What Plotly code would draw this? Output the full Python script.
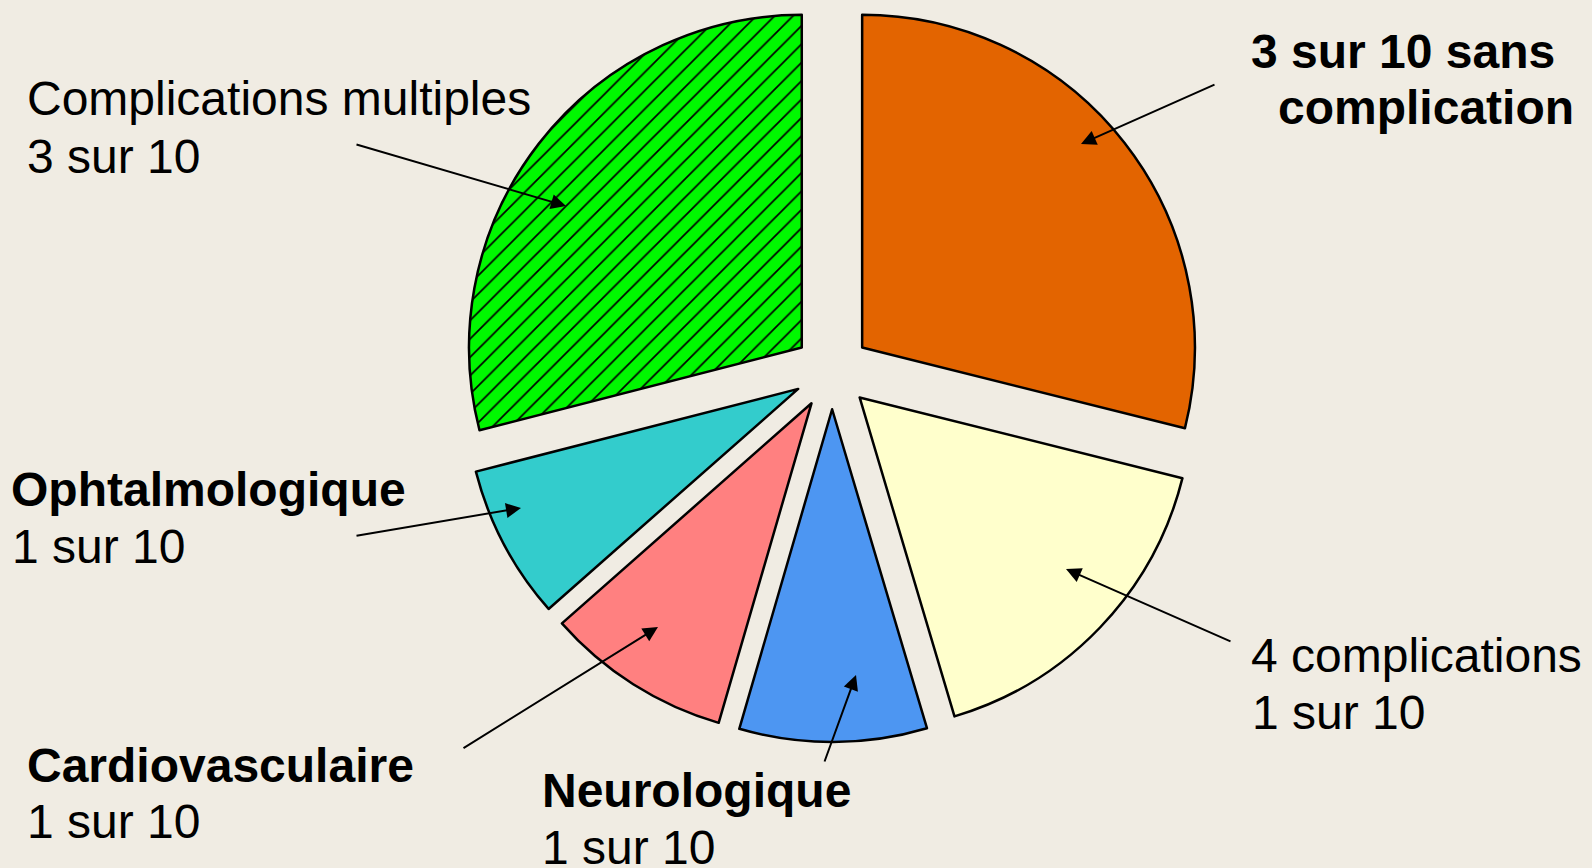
import plotly.graph_objects as go

# ---- data -------------------------------------------------------------
categories = ["Sans complication", "4 complications", "Neurologique",
              "Cardiovasculaire", "Ophtalmologique", "Complications multiples"]
shares = [28.9, 16.5, 9.1, 9.0, 7.5, 29.0]
slice_colors = ["#E36400", "#FFFFCC", "#4D96F2", "#FF8080", "#33CCCC", "#00F800"]
slice_patterns = ["", "", "", "", "", "/"]

label_titles = ["3 sur 10 sans", "4 complications", "Neurologique",
                "Cardiovasculaire", "Ophtalmologique", "Complications multiples"]
label_subtitles = ["complication", "1 sur 10", "1 sur 10",
                   "1 sur 10", "1 sur 10", "3 sur 10"]
title_bold = [True, False, True, True, True, False]
sub_bold = [True, False, False, False, False, False]

# ---- layout helpers (pixel geometry of the 1592x868 canvas) ------------
W, H = 1592, 868
BG = "#F0ECE3"
FONT = "Liberation Sans, Arial, sans-serif"
FS = 48

cx, cy = 832, 371
half = 371
pull = 0.115

fig = go.Figure(go.Pie(
    labels=categories,
    values=shares,
    sort=False,
    direction="clockwise",
    rotation=0,
    pull=[pull] * len(shares),
    textinfo="none",
    hoverinfo="skip",
    showlegend=False,
    marker=dict(
        colors=slice_colors,
        line=dict(color="black", width=2.5),
        pattern=dict(shape=slice_patterns, fgcolor="black", fgopacity=1,
                     fillmode="overlay", size=13, solidity=0.13),
    ),
    domain=dict(x=[(cx - 700) / W, (cx + 700) / W],
                y=[(H - cy - half) / H, 1.0]),
))

def px(x):
    return x / W

def py(y):
    return 1 - y / H

# text positions: (x_left_title, y_title, x_left_sub, y_sub)
text_pos = [
    (1249, 52, 1276, 107),
    (1249, 655, 1250, 712),
    (540, 790, 540, 847),
    (25, 765, 25, 821),
    (9, 489, 10, 546),
    (25, 99, 25, 157),
]
# arrows: (tail_x, tail_y, head_x, head_y)
arrow_pos = [
    (1216, 84, 1081, 144),
    (1232, 642, 1066, 569),
    (824, 763, 856, 675),
    (462, 749, 658, 627),
    (355, 536, 521, 508),
    (355, 144, 566, 206),
]

annotations = []
for i in range(len(categories)):
    tx, ty, sx, sy = text_pos[i]
    t = label_titles[i]
    s = label_subtitles[i]
    annotations.append(dict(
        x=px(tx), y=py(ty), xref="paper", yref="paper",
        xanchor="left", yanchor="middle", showarrow=False,
        text=f"<b>{t}</b>" if title_bold[i] else t,
        font=dict(family=FONT, size=FS, color="black"),
    ))
    annotations.append(dict(
        x=px(sx), y=py(sy), xref="paper", yref="paper",
        xanchor="left", yanchor="middle", showarrow=False,
        text=f"<b>{s}</b>" if sub_bold[i] else s,
        font=dict(family=FONT, size=FS, color="black"),
    ))
    ax0, ay0, hx, hy = arrow_pos[i]
    annotations.append(dict(
        x=px(hx), y=py(hy), xref="paper", yref="paper",
        ax=ax0 - hx, ay=ay0 - hy, axref="pixel", ayref="pixel",
        text="", showarrow=True, arrowhead=2, arrowsize=1.5,
        arrowwidth=2, arrowcolor="black", standoff=0,
    ))

fig.update_layout(
    width=W, height=H, autosize=False,
    margin=dict(l=0, r=0, t=0, b=0),
    paper_bgcolor=BG, plot_bgcolor=BG,
    annotations=annotations,
)

fig.write_html(
    "out.html",
    config={"displayModeBar": False},
    post_script="document.body.style.margin='0';"
                "document.body.style.overflow='hidden';"
                "document.body.style.background='" + BG + "';",
)
